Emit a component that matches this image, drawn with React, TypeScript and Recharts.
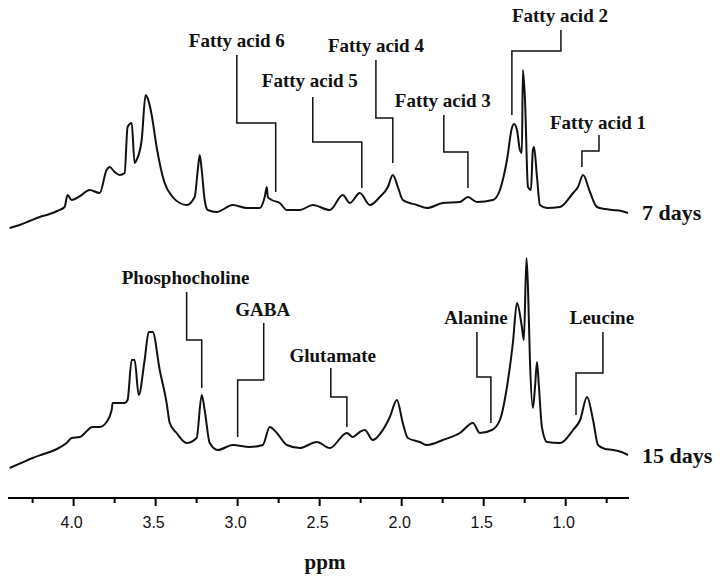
import React from 'react';
import { LineChart, Line, XAxis, YAxis, ReferenceDot } from 'recharts';

// 7 days spectrum (chemical shift in ppm, intensity in display units)
const ppm7 = [4.39, 4.329, 4.268, 4.207, 4.146, 4.1, 4.055, 4.037, 4.012, 3.96, 3.902, 3.841, 3.799, 3.78, 3.75, 3.719, 3.689, 3.671, 3.646, 3.628, 3.616, 3.585, 3.561, 3.549, 3.524, 3.494, 3.445, 3.396, 3.353, 3.311, 3.262, 3.243, 3.231, 3.219, 3.201, 3.182, 3.128, 3.03, 2.944, 2.865, 2.835, 2.822, 2.816, 2.792, 2.743, 2.7, 2.621, 2.542, 2.438, 2.359, 2.316, 2.255, 2.194, 2.133, 2.084, 2.054, 2.023, 1.993, 1.907, 1.846, 1.749, 1.645, 1.596, 1.541, 1.444, 1.401, 1.358, 1.328, 1.315, 1.297, 1.279, 1.267, 1.261, 1.248, 1.23, 1.212, 1.2, 1.193, 1.175, 1.157, 1.114, 1.035, 0.955, 0.925, 0.894, 0.852, 0.809, 0.76, 0.711, 0.66, 0.62];
const int7 = [270, 273, 277, 281, 284, 287, 291, 303, 298, 302, 308, 305, 328, 331, 326, 323, 325, 371, 375, 335, 338, 358, 403, 400, 383, 351, 315, 301, 295, 293, 301, 328, 343, 328, 298, 288, 286, 293, 290, 290, 301, 311, 301, 298, 295, 288, 288, 293, 288, 303, 295, 305, 293, 301, 311, 323, 311, 298, 293, 290, 295, 296, 301, 296, 298, 308, 338, 370, 374, 368, 348, 345, 428, 398, 311, 308, 348, 351, 321, 293, 290, 291, 305, 311, 323, 306, 291, 289, 288, 287, 285];

// 15 days spectrum
const ppm15 = [4.39, 4.32, 4.25, 4.2, 4.146, 4.09, 4.043, 4.012, 3.963, 3.884, 3.841, 3.799, 3.768, 3.762, 3.72, 3.689, 3.671, 3.646, 3.628, 3.603, 3.567, 3.542, 3.518, 3.475, 3.433, 3.414, 3.372, 3.311, 3.25, 3.219, 3.201, 3.17, 3.121, 3.03, 2.926, 2.847, 2.804, 2.761, 2.7, 2.621, 2.517, 2.438, 2.334, 2.298, 2.255, 2.225, 2.176, 2.115, 2.072, 2.029, 1.993, 1.962, 1.889, 1.846, 1.749, 1.645, 1.566, 1.523, 1.45, 1.401, 1.358, 1.322, 1.297, 1.267, 1.255, 1.239, 1.23, 1.218, 1.2, 1.187, 1.175, 1.163, 1.145, 1.114, 1.035, 0.955, 0.912, 0.87, 0.833, 0.803, 0.76, 0.711, 0.66, 0.62];
const int15 = [30, 35, 40, 43, 46, 50, 55, 60, 61, 71, 71, 76, 88, 95, 95, 95, 98, 138, 138, 103, 138, 166, 166, 128, 95, 75, 65, 55, 60, 103, 88, 55, 48, 53, 51, 53, 71, 65, 53, 50, 56, 50, 65, 61, 66, 68, 58, 68, 81, 98, 75, 60, 56, 53, 58, 65, 75, 65, 68, 78, 111, 155, 195, 171, 158, 240, 211, 138, 90, 111, 136, 111, 71, 56, 55, 68, 78, 101, 78, 53, 49, 48, 46, 43];

const seriesNames = ['7 days', '15 days'];

const xTicks = [4.25, 4.0, 3.75, 3.5, 3.25, 3.0, 2.75, 2.5, 2.25, 2.0, 1.75, 1.5, 1.25, 1.0, 0.75];

// Peak annotations
const annNames = ['Fatty acid 6', 'Fatty acid 5', 'Fatty acid 4', 'Fatty acid 3', 'Fatty acid 2', 'Fatty acid 1', 'Phosphocholine', 'GABA', 'Glutamate', 'Alanine', 'Leucine'];
const annTextPpm = [3.005, 2.56, 2.157, 1.749, 1.035, 0.803, 3.317, 2.847, 2.42, 1.547, 0.779];
const annTextInt = [458, 418, 453, 398, 483, 376, 221, 189, 143, 181, 181];
const annPaths: number[][][] = [
  [[3.005, 443], [3.005, 375], [2.768, 375], [2.768, 306]],
  [[2.542, 401], [2.542, 356], [2.243, 356], [2.243, 310]],
  [[2.157, 438], [2.157, 380], [2.054, 380], [2.054, 335]],
  [[1.743, 383], [1.743, 346], [1.596, 346], [1.596, 310]],
  [[1.029, 468], [1.029, 447], [1.328, 447], [1.328, 383]],
  [[0.797, 363], [0.797, 347], [0.901, 347], [0.901, 331]],
  [[3.311, 206], [3.311, 158], [3.219, 158], [3.219, 110]],
  [[2.841, 175], [2.841, 118], [3.0, 118], [3.0, 61]],
  [[2.432, 130], [2.432, 101], [2.334, 101], [2.334, 71]],
  [[1.541, 166], [1.541, 121], [1.456, 121], [1.456, 75]],
  [[0.773, 166], [0.773, 125], [0.937, 125], [0.937, 83]],
];

const spec7 = ppm7.map((p, i) => ({ ppm: p, v: int7[i] }));
const spec15 = ppm15.map((p, i) => ({ ppm: p, v: int15[i] }));
const leaders = annPaths.map((path) => path.map(([p, v]) => ({ ppm: p, v })));

const SERIF = "'Liberation Serif', 'Times New Roman', serif";
const SANS = "'Liberation Sans', Arial, sans-serif";

const Tick = (props: any) => {
  const { x, y, payload } = props;
  const val = payload.value as number;
  const major = Math.abs(val * 2 - Math.round(val * 2)) < 1e-6;
  return (
    <g>
      <line x1={x} x2={x} y1={y} y2={y + (major ? 8 : 5)} stroke="#000" strokeWidth={2} />
      {major && (
        <text x={x - 2} y={y + 30} textAnchor="middle" fontFamily={SANS} fontSize={16} fill="#111">
          {val.toFixed(1)}
        </text>
      )}
    </g>
  );
};

export default function App() {
  const last7 = spec7[spec7.length - 1];
  const last15 = spec15[spec15.length - 1];
  return (
    <div style={{ position: 'absolute', left: 0, top: 0, width: 720, height: 580, background: '#fff' }}>
      <LineChart width={720} height={580} margin={{ top: 0, right: 91, left: 8, bottom: 0 }}>
        <XAxis
          type="number"
          dataKey="ppm"
          domain={[0.614, 4.4]}
          allowDataOverflow
          reversed
          ticks={xTicks}
          interval={0}
          tick={<Tick />}
          tickLine={false}
          tickSize={0}
          tickMargin={0}
          height={82}
          axisLine={{ stroke: '#000', strokeWidth: 2 }}
          label={(p: any) => (
            <text x={325} y={569} textAnchor="middle" fontFamily={SERIF} fontWeight="bold" fontSize={21} fill="#111">
              ppm
            </text>
          )}
        />
        <YAxis type="number" domain={[0, 498]} hide allowDataOverflow />
        <Line data={spec7} dataKey="v" name={seriesNames[0]} type="monotone" stroke="#111" strokeWidth={2} dot={false} isAnimationActive={false} />
        <Line data={spec15} dataKey="v" name={seriesNames[1]} type="monotone" stroke="#111" strokeWidth={2} dot={false} isAnimationActive={false} />
        {leaders.map((d, i) => (
          <Line key={'l' + i} data={d} dataKey="v" type="linear" stroke="#111" strokeWidth={1.5} dot={false} isAnimationActive={false} />
        ))}
        {annNames.map((n, i) => (
          <ReferenceDot
            key={'t' + i}
            x={annTextPpm[i]}
            y={annTextInt[i]}
            r={0}
            ifOverflow="visible"
            shape={(p: any) => (
              <text x={p.cx} y={p.cy + 6.5} textAnchor="middle" fontFamily={SERIF} fontWeight="bold" fontSize={19} fill="#111">
                {n}
              </text>
            )}
          />
        ))}
        <ReferenceDot
          x={last7.ppm}
          y={last7.v}
          r={0}
          ifOverflow="visible"
          shape={(p: any) => (
            <text x={p.cx + 14} y={p.cy + 7} fontFamily={SERIF} fontWeight="bold" fontSize={22} fill="#111">
              {seriesNames[0]}
            </text>
          )}
        />
        <ReferenceDot
          x={last15.ppm}
          y={last15.v}
          r={0}
          ifOverflow="visible"
          shape={(p: any) => (
            <text x={p.cx + 14} y={p.cy + 8} fontFamily={SERIF} fontWeight="bold" fontSize={22} fill="#111">
              {seriesNames[1]}
            </text>
          )}
        />
      </LineChart>
    </div>
  );
}
